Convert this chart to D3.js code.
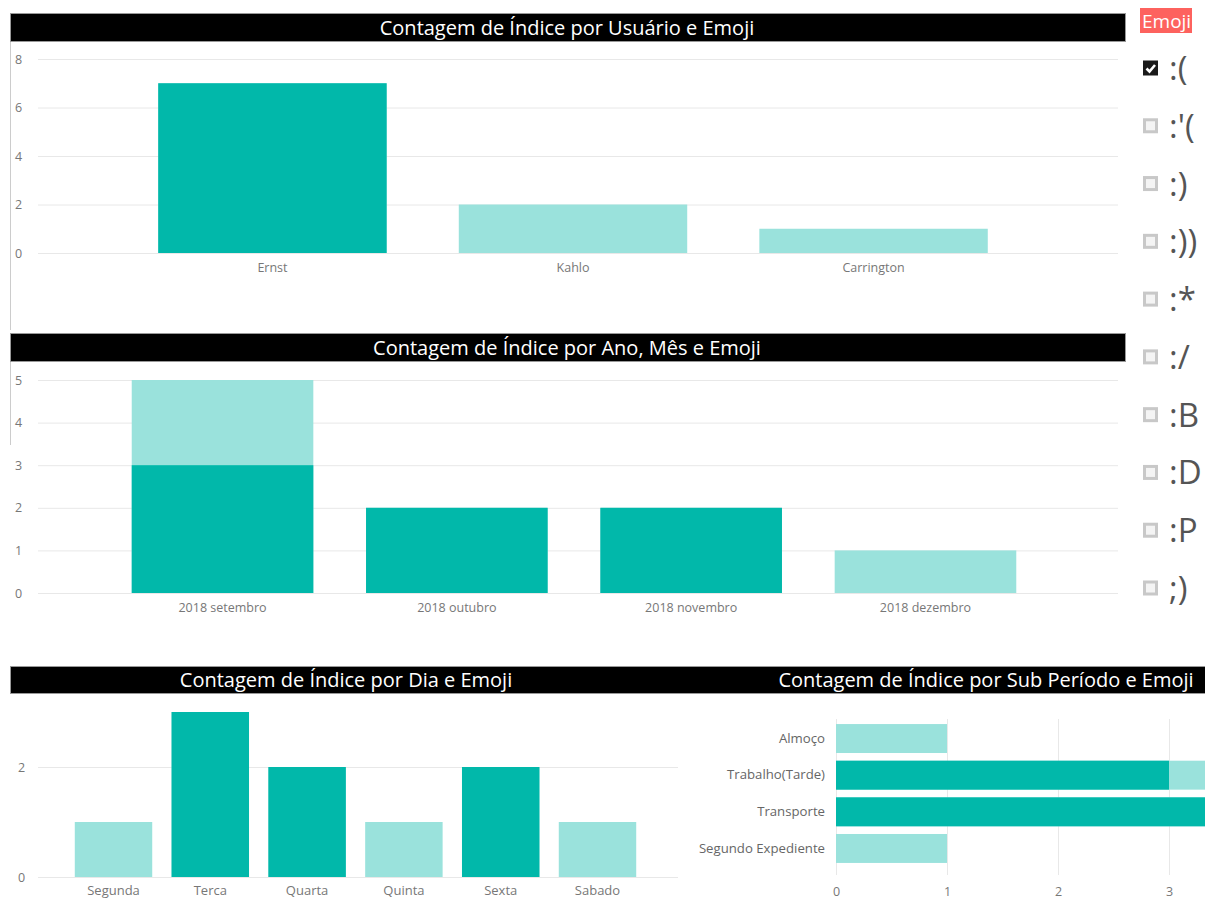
<!DOCTYPE html>
<html>
<head>
<meta charset="utf-8">
<script src="https://cdn.jsdelivr.net/npm/d3@7"></script>
<style>
    body { margin: 0; background: #fff; font-family: "Segoe UI", "Open Sans", sans-serif; }
    svg text { font-family: "Segoe UI", "Open Sans", sans-serif; }
</style>
</head>
<body>
<svg id="dash" width="1205" height="899"></svg>
<script>

// Dados
let usuarios = ["Ernst", "Kahlo", "Carrington"];
let usuarioTotal = [7, 2, 1];
let usuarioSel = [7, 0, 0];

let meses = ["2018 setembro", "2018 outubro", "2018 novembro", "2018 dezembro"];
let mesTotal = [5, 2, 2, 1];
let mesSel = [3, 2, 2, 0];

let dias = ["Segunda", "Terca", "Quarta", "Quinta", "Sexta", "Sabado"];
let diaTotal = [1, 3, 2, 1, 2, 1];
let diaSel = [0, 3, 2, 0, 2, 0];

let periodos = ["Almoço", "Trabalho(Tarde)", "Transporte", "Segundo Expediente"];
let periodoTotal = [1, 4, 4, 1];
let periodoSel = [0, 3, 4, 0];

let emojis = [":(", ":'(", ":)", ":))", ":*", ":/", ":B", ":D", ":P", ";)"];
let emojiSelecionado = ":(";

let titulos = [
    "Contagem de Índice por Usuário e Emoji",
    "Contagem de Índice por Ano, Mês e Emoji",
    "Contagem de Índice por Dia e Emoji",
    "Contagem de Índice por Sub Período e Emoji"
];

const corForte = "#01B8AA";
const corFraca = "#9AE2DC";
const corTexto = "#777";
const corGrade = "#e8e8e8";

let svg = d3.select("#dash");

// Barra de titulo preta
function tituloBar(x, y, w, h, texto, cx) {
    svg.append("rect")
        .attr("x", x).attr("y", y)
        .attr("width", w).attr("height", h)
        .attr("fill", "#000")
        .attr("stroke", "#999").attr("stroke-width", 1);
    if (texto) tituloTexto(texto, cx, y + h / 2 + 7);
}

function tituloTexto(texto, cx, y) {
    svg.append("text")
        .attr("x", cx).attr("y", y)
        .attr("text-anchor", "middle")
        .attr("fill", "#fff")
        .attr("font-size", 20)
        .text(texto);
}

class ColunaVis {

    constructor(cfg) {
        this.cfg = cfg;
        this.initVis();
    }

    initVis() {
        let vis = this;
        let c = vis.cfg;

        vis.g = svg.append("g");

        vis.x = d3.scaleBand()
            .domain(c.categorias)
            .range(c.xRange)
            .paddingInner(c.padIn)
            .paddingOuter(c.padOut);

        vis.y = d3.scaleLinear()
            .domain([0, c.yMax])
            .range(c.yRange);

        // grade e eixo y
        let eixoY = d3.axisLeft(vis.y)
            .tickValues(c.yTicks)
            .tickSize(-(c.gridX1 - c.gridX0))
            .tickFormat(d3.format("d"));

        vis.g.append("g")
            .attr("transform", "translate(" + c.gridX0 + ",0)")
            .call(eixoY)
            .call(g => g.select(".domain").remove())
            .call(g => g.selectAll("line").attr("stroke", corGrade))
            .call(g => g.selectAll("text")
                .attr("fill", corTexto)
                .attr("font-size", 12.5)
                .attr("x", c.yLabelX - c.gridX0)
                .attr("text-anchor", "start"));

        vis.wrangleData();
    }

    wrangleData() {
        let vis = this;
        let c = vis.cfg;
        vis.displayData = c.categorias.map((d, i) => ({
            nome: d, total: c.total[i], sel: c.sel[i]
        }));
        vis.updateVis();
    }

    updateVis() {
        let vis = this;
        let c = vis.cfg;

        vis.g.selectAll(".barTotal")
            .data(vis.displayData)
            .enter().append("rect")
            .attr("class", "barTotal")
            .attr("x", d => vis.x(d.nome))
            .attr("width", vis.x.bandwidth())
            .attr("y", d => vis.y(d.total))
            .attr("height", d => vis.y(0) - vis.y(d.total))
            .attr("fill", corFraca);

        vis.g.selectAll(".barSel")
            .data(vis.displayData.filter(d => d.sel > 0))
            .enter().append("rect")
            .attr("class", "barSel")
            .attr("x", d => vis.x(d.nome))
            .attr("width", vis.x.bandwidth())
            .attr("y", d => vis.y(d.sel))
            .attr("height", d => vis.y(0) - vis.y(d.sel))
            .attr("fill", corForte);

        // eixo x (so os rotulos)
        let eixoX = d3.axisBottom(vis.x).tickSize(0).tickPadding(c.xPad);
        vis.g.append("g")
            .attr("transform", "translate(0," + vis.y(0) + ")")
            .call(eixoX)
            .call(g => g.select(".domain").remove())
            .call(g => g.selectAll("text")
                .attr("fill", corTexto)
                .attr("font-size", c.xFont));
    }
}

class LinhaVis {

    constructor(cfg) {
        this.cfg = cfg;
        this.initVis();
    }

    initVis() {
        let vis = this;
        let c = vis.cfg;

        vis.g = svg.append("g");

        vis.y = d3.scaleBand()
            .domain(c.categorias)
            .range(c.yRange)
            .paddingInner(0.21)
            .paddingOuter(0.22);

        vis.x = d3.scaleLinear()
            .domain([0, c.xMax])
            .range(c.xRange);

        let eixoX = d3.axisBottom(vis.x)
            .tickValues(c.xTicks)
            .tickSize(-(c.gridY1 - c.gridY0))
            .tickPadding(12)
            .tickFormat(d3.format("d"));

        vis.g.append("g")
            .attr("transform", "translate(0," + c.gridY1 + ")")
            .call(eixoX)
            .call(g => g.select(".domain").remove())
            .call(g => g.selectAll("line").attr("stroke", corGrade))
            .call(g => g.selectAll("text").attr("fill", corTexto).attr("font-size", 12.5));

        vis.wrangleData();
    }

    wrangleData() {
        let vis = this;
        let c = vis.cfg;
        vis.displayData = c.categorias.map((d, i) => ({
            nome: d, total: c.total[i], sel: c.sel[i]
        }));
        vis.updateVis();
    }

    updateVis() {
        let vis = this;

        vis.g.selectAll(".barTotal")
            .data(vis.displayData)
            .enter().append("rect")
            .attr("class", "barTotal")
            .attr("x", vis.x(0))
            .attr("y", d => vis.y(d.nome))
            .attr("height", vis.y.bandwidth())
            .attr("width", d => vis.x(d.total) - vis.x(0))
            .attr("fill", corFraca);

        vis.g.selectAll(".barSel")
            .data(vis.displayData.filter(d => d.sel > 0))
            .enter().append("rect")
            .attr("class", "barSel")
            .attr("x", vis.x(0))
            .attr("y", d => vis.y(d.nome))
            .attr("height", vis.y.bandwidth())
            .attr("width", d => vis.x(d.sel) - vis.x(0))
            .attr("fill", corForte);

        let eixoY = d3.axisLeft(vis.y).tickSize(0).tickPadding(11);
        vis.g.append("g")
            .attr("transform", "translate(" + vis.x(0) + ",0)")
            .call(eixoY)
            .call(g => g.select(".domain").remove())
            .call(g => g.selectAll("text").attr("fill", "#666").attr("font-size", 13.2));
    }
}

// bordas esquerdas dos visuais
svg.append("line").attr("x1", 10.5).attr("x2", 10.5).attr("y1", 42).attr("y2", 330)
    .attr("stroke", "#ccc");
svg.append("line").attr("x1", 10.5).attr("x2", 10.5).attr("y1", 362).attr("y2", 445)
    .attr("stroke", "#ccc");

// Grafico 1 - usuario
tituloBar(10.5, 13.5, 1115, 28, titulos[0], 567);
new ColunaVis({
    categorias: usuarios, total: usuarioTotal, sel: usuarioSel,
    xRange: [38, 1108], padIn: 0.24, padOut: 0.4,
    yMax: 8, yRange: [253, 59], yTicks: [0, 2, 4, 6, 8],
    gridX0: 38, gridX1: 1118, yLabelX: 15, xPad: 10, xFont: 12.5
});

// Grafico 2 - ano/mes
tituloBar(10.5, 333.5, 1115, 28, titulos[1], 567);
new ColunaVis({
    categorias: meses, total: mesTotal, sel: mesSel,
    xRange: [38, 1110], padIn: 0.225, padOut: 0.4,
    yMax: 5, yRange: [593, 380], yTicks: [0, 1, 2, 3, 4, 5],
    gridX0: 38, gridX1: 1118, yLabelX: 15, xPad: 10, xFont: 12.5
});

// Graficos de baixo
tituloBar(10.5, 666.5, 1210, 27, null, 0);
tituloTexto(titulos[2], 346, 687);
tituloTexto(titulos[3], 986, 687);

new ColunaVis({
    categorias: dias, total: diaTotal, sel: diaSel,
    xRange: [38, 673], padIn: 0.2, padOut: 0.38,
    yMax: 3, yRange: [877, 712], yTicks: [0, 2],
    gridX0: 38, gridX1: 678, yLabelX: 18, xPad: 9, xFont: 13
});

new LinhaVis({
    categorias: periodos, total: periodoTotal, sel: periodoSel,
    xMax: 4, xRange: [836, 1280], xTicks: [0, 1, 2, 3],
    yRange: [716, 871], gridY0: 719, gridY1: 875
});

// Segmentacao (slicer) de Emoji
svg.append("rect").attr("x", 1140).attr("y", 8).attr("width", 52).attr("height", 25)
    .attr("fill", "#FD625E");
svg.append("text").attr("x", 1142).attr("y", 28).attr("fill", "#fff")
    .attr("font-size", 19).text("Emoji");

let yEmoji = d3.scalePoint().domain(emojis).range([68, 588]);

let itens = svg.selectAll(".item")
    .data(emojis)
    .enter().append("g")
    .attr("class", "item")
    .attr("transform", d => "translate(0," + yEmoji(d) + ")");

itens.append("rect")
    .attr("x", d => d === emojiSelecionado ? 1143 : 1144.5)
    .attr("y", d => d === emojiSelecionado ? -7.5 : -6)
    .attr("width", d => d === emojiSelecionado ? 15 : 12)
    .attr("height", d => d === emojiSelecionado ? 15 : 12)
    .attr("fill", d => d === emojiSelecionado ? "#1a1a1a" : "#f4f4f4")
    .attr("stroke", d => d === emojiSelecionado ? "none" : "#c8c8c8")
    .attr("stroke-width", 3);

itens.filter(d => d === emojiSelecionado).append("path")
    .attr("d", "M1146.5,0.5 L1149.5,3.5 L1155,-3")
    .attr("fill", "none")
    .attr("stroke", "#fff")
    .attr("stroke-width", 2.6);

itens.append("text")
    .attr("x", 1169)
    .attr("y", 12)
    .attr("fill", "#555")
    .attr("font-size", 33)
    .text(d => d);

</script>
</body>
</html>
